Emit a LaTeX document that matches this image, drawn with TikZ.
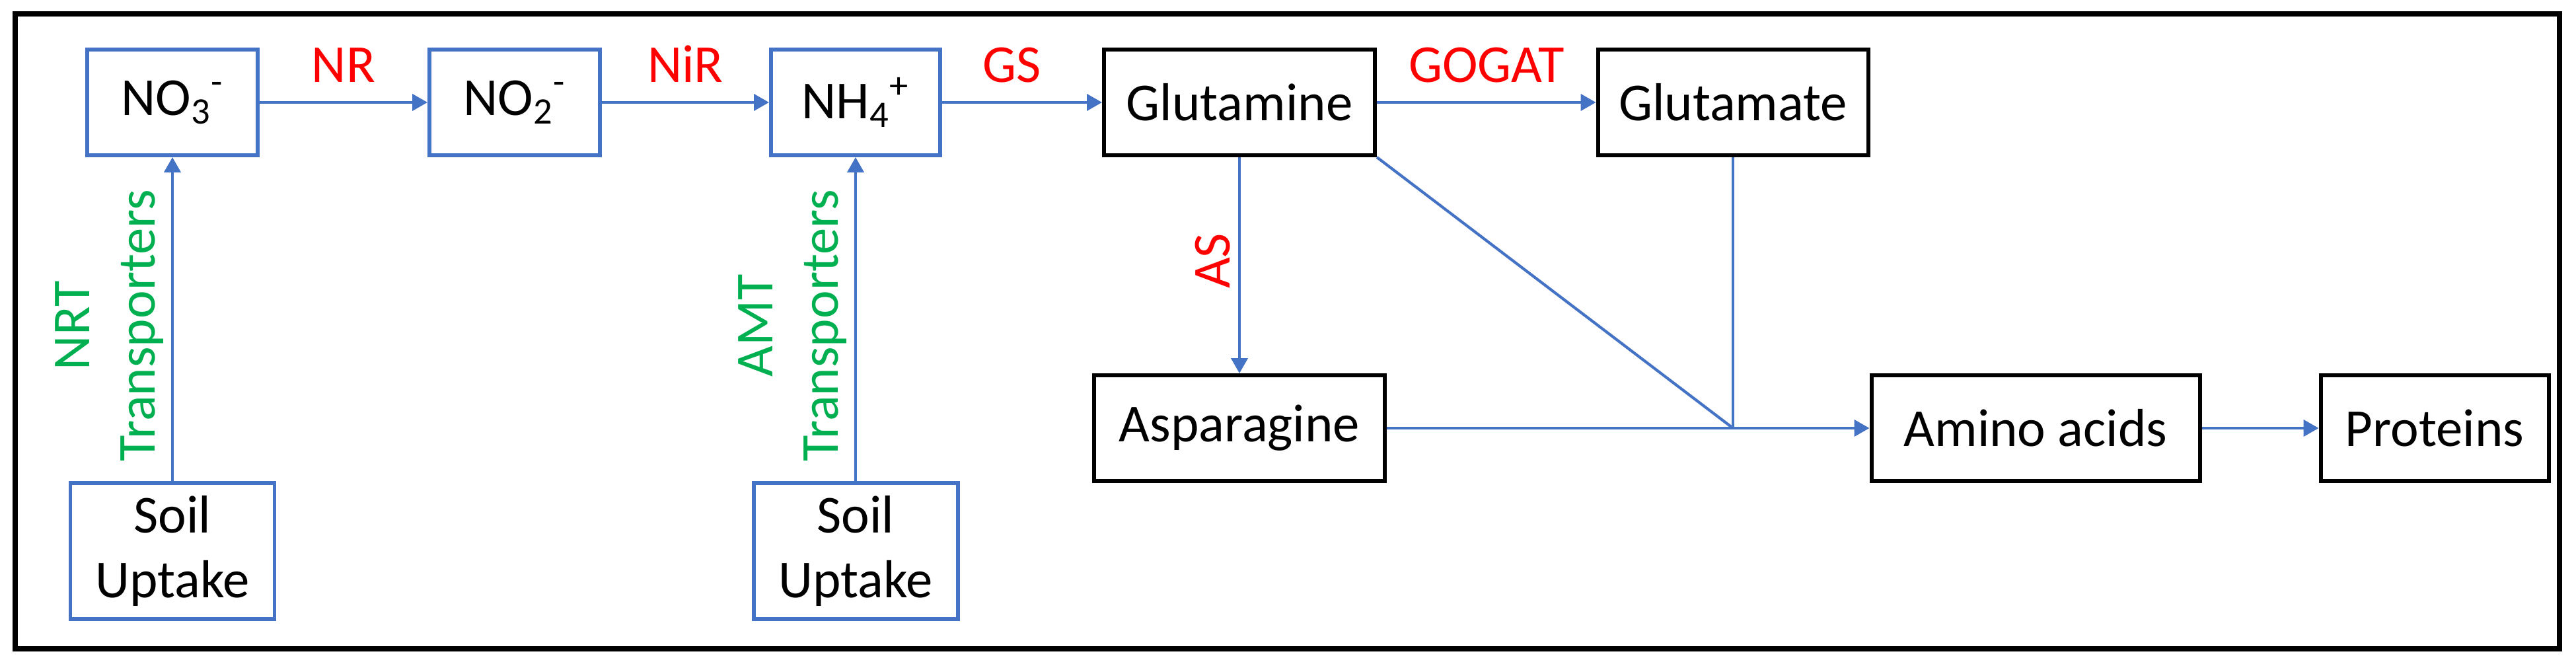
\documentclass[tikz,border=0pt]{standalone}
\usepackage{fontspec}
\setmainfont{Carlito}
\usetikzlibrary{arrows.meta,positioning}
\definecolor{boxblue}{HTML}{4472C4}
\definecolor{enzred}{HTML}{FF0000}
\definecolor{carriergreen}{HTML}{00B050}
\begin{document}
\begin{tikzpicture}[
    bluebox/.style={draw=boxblue, line width=1.7pt, inner sep=0pt, minimum height=1.6cm, font=\fontsize{23}{28}\selectfont},
    blackbox/.style={draw=black, line width=1.7pt, inner sep=0pt, minimum height=1.6cm, font=\fontsize{23}{28}\selectfont},
    flow/.style={draw=boxblue, line width=1.2pt, -{Triangle[length=0.23cm,width=0.25cm]}},
    link/.style={draw=boxblue, line width=1.2pt},
    enzyme/.style={text=enzred, font=\fontsize{23}{28}\selectfont},
    carrier/.style={text=carriergreen, align=center, font=\fontsize{23}{28}\selectfont}
]
    \useasboundingbox (0,0) rectangle (38.99,10.07);
    \draw[line width=2.3pt] (0.23,0.25) rectangle (38.74,9.86);

    \node[bluebox, minimum width=2.58cm] (no3) at (2.61,8.52) {NO\textsubscript{3}\textsuperscript{-}};
    \node[bluebox, minimum width=2.58cm, right of=no3, node distance=5.18cm] (no2) {NO\textsubscript{2}\textsuperscript{-}};
    \node[bluebox, minimum width=2.56cm, right of=no2, node distance=5.16cm] (nh4) {NH\textsubscript{4}\textsuperscript{+}};
    \node[blackbox, minimum width=4.10cm, right of=nh4, node distance=5.81cm] (gln) {Glutamine};
    \node[blackbox, minimum width=4.09cm, right of=gln, node distance=7.47cm] (glu) {Glutamate};

    \node[bluebox, minimum width=3.09cm, minimum height=2.06cm, align=center, below of=no3, node distance=6.79cm] (soil1) {Soil\\Uptake};
    \node[bluebox, minimum width=3.09cm, minimum height=2.06cm, align=center, below of=nh4, node distance=6.79cm] (soil2) {Soil\\Uptake};

    \node[blackbox, minimum width=4.40cm, below of=gln, node distance=4.93cm] (asn) {Asparagine};
    \node[blackbox, minimum width=4.97cm, right of=asn, node distance=12.05cm] (amino) {Amino acids};
    \node[blackbox, minimum width=3.45cm, right of=amino, node distance=6.04cm] (prot) {Proteins};

    \coordinate (jn) at (glu.south |- asn.east);

    \draw[flow] (no3) -- node[enzyme, above, inner ysep=0.28cm] {NR} (no2);
    \draw[flow] (no2) -- node[enzyme, above, inner ysep=0.28cm] {NiR} (nh4);
    \draw[flow] (nh4) -- node[enzyme, above, inner ysep=0.28cm, xshift=-0.15cm] {GS} (gln);
    \draw[flow] (gln) -- node[enzyme, above, inner ysep=0.28cm] {GOGAT} (glu);

    \draw[flow] (soil1) -- node[carrier, rotate=90, anchor=south, pos=0.48] {NRT\\Transporters} (no3);
    \draw[flow] (soil2) -- node[carrier, rotate=90, anchor=south, pos=0.48] {AMT\\Transporters} (nh4);
    \draw[flow] (gln) -- node[enzyme, rotate=90, anchor=south, pos=0.48] {AS} (asn);

    \draw[link] (gln.south east) -- (jn);
    \draw[link] (glu.south) -- (jn);
    \draw[link] (asn.east) -- (jn);
    \draw[flow] (jn) -- (amino.west);
    \draw[flow] (amino) -- (prot);
\end{tikzpicture}
\end{document}
